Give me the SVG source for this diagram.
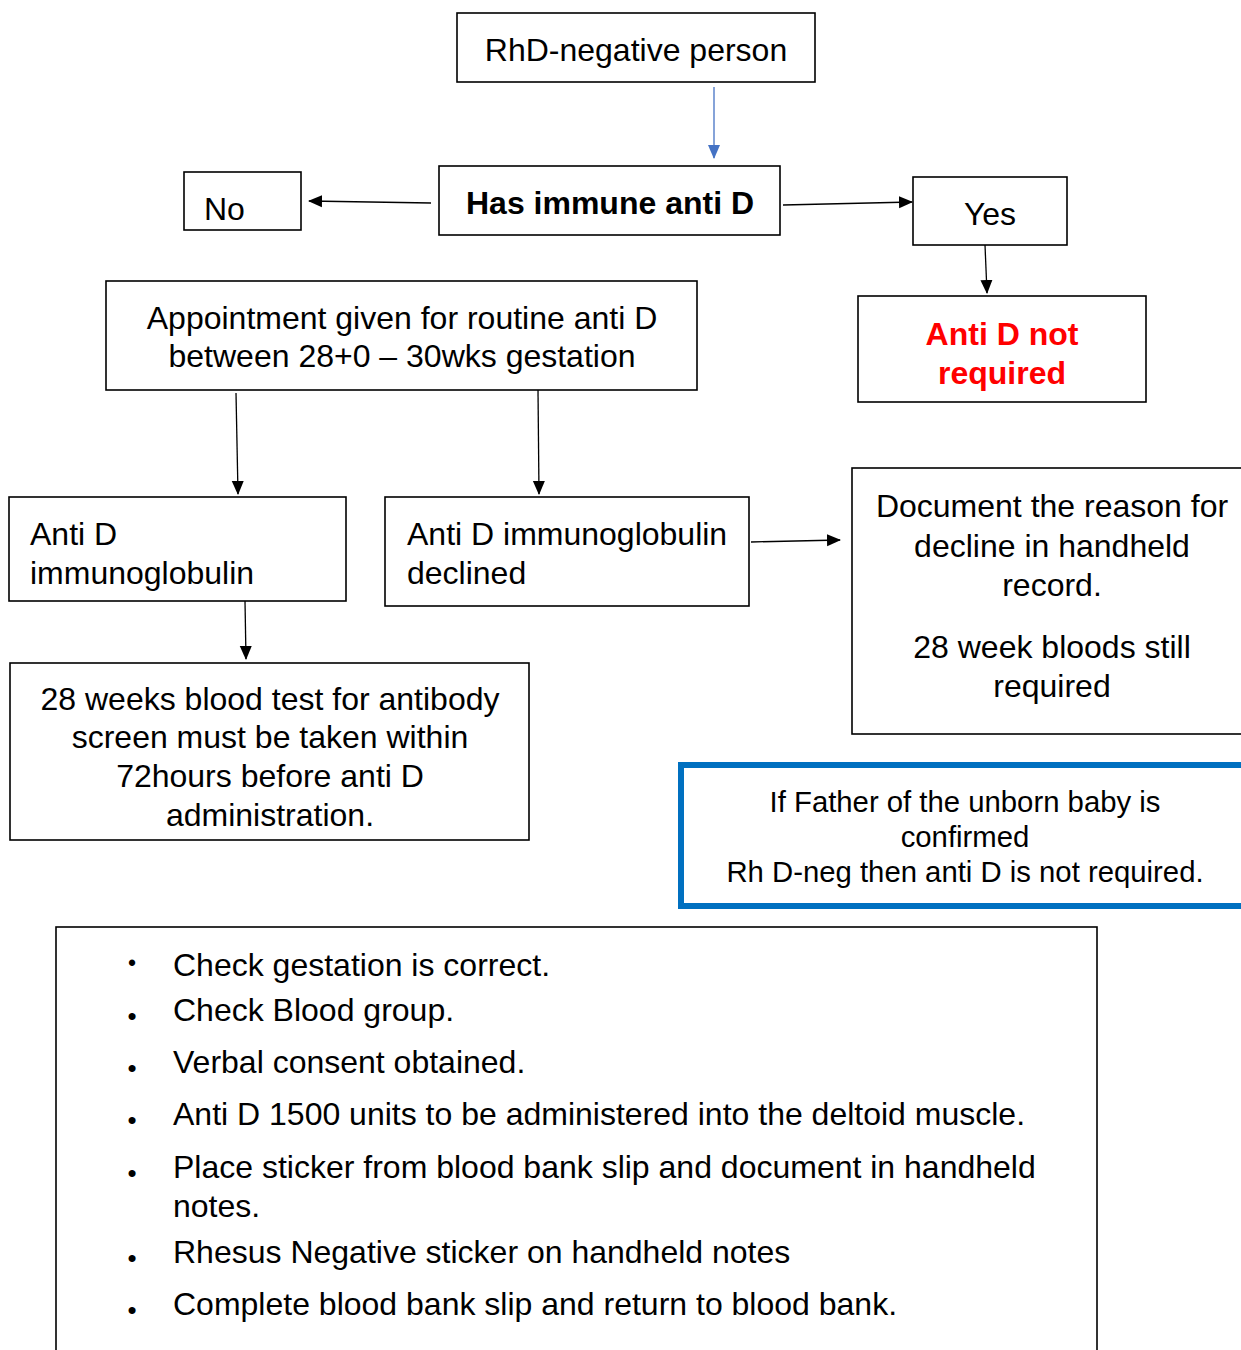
<svg xmlns="http://www.w3.org/2000/svg" width="1241" height="1350" viewBox="0 0 1241 1350">
<style>
.box{fill:#fff;stroke:#000;stroke-width:1.6}
.t{font-family:"Liberation Sans",Arial,sans-serif;font-size:32px;fill:#000}
.c{text-anchor:middle}
.b{font-weight:bold}
.red{fill:#ff0000}
.con{stroke:#000;stroke-width:1.3;fill:none;marker-end:url(#ah)}
.blue{stroke:#4472C4;stroke-width:1.3;fill:none;marker-end:url(#ahb)}
.bul{font-family:"Liberation Sans",Arial,sans-serif;font-size:26px;text-anchor:middle;fill:#000}
</style>
<defs>
<marker id="ah" markerWidth="14" markerHeight="14" refX="13" refY="7" orient="auto" markerUnits="userSpaceOnUse">
<path d="M0,1 L14,7 L0,13 Z" fill="#000"/>
</marker>
<marker id="ahb" markerWidth="14" markerHeight="14" refX="13" refY="7" orient="auto" markerUnits="userSpaceOnUse">
<path d="M0,1 L14,7 L0,13 Z" fill="#4472C4"/>
</marker>
</defs>
<rect width="1241" height="1350" fill="#fff"/>

<g id="connectors">
<line class="blue" x1="714" y1="87" x2="714" y2="158"/>
<line class="con" x1="431" y1="203" x2="309" y2="201"/>
<line class="con" x1="783" y1="205" x2="912" y2="202"/>
<line class="con" x1="985" y1="245" x2="987" y2="293"/>
<line class="con" x1="236" y1="393" x2="238" y2="494"/>
<line class="con" x1="538" y1="390" x2="539" y2="494"/>
<line class="con" x1="751" y1="542" x2="840" y2="540"/>
<line class="con" x1="245" y1="601" x2="246" y2="659"/>
</g>

<g id="rhd-negative">
<rect class="box" x="457" y="13" width="358" height="69"/>
<text class="t c" x="636" y="61">RhD-negative person</text>
</g>

<g id="has-immune">
<rect class="box" x="439" y="166" width="341" height="69"/>
<text class="t c b" x="610" y="214">Has immune anti D</text>
</g>

<g id="no">
<rect class="box" x="184" y="172" width="117" height="58"/>
<text class="t" x="204" y="220">No</text>
</g>

<g id="yes">
<rect class="box" x="913" y="177" width="154" height="68"/>
<text class="t c" x="990" y="225">Yes</text>
</g>

<g id="not-required">
<rect class="box" x="858" y="296" width="288" height="106"/>
<text class="t c b red" x="1002" y="345">Anti D not</text>
<text class="t c b red" x="1002" y="384">required</text>
</g>

<g id="appointment">
<rect class="box" x="106" y="281" width="591" height="109"/>
<text class="t c" x="402" y="329">Appointment given for routine anti D</text>
<text class="t c" x="402" y="367">between 28+0 – 30wks gestation</text>
</g>

<g id="given">
<rect class="box" x="9" y="497" width="337" height="104"/>
<text class="t" x="30" y="545">Anti D</text>
<text class="t" x="30" y="584">immunoglobulin</text>
</g>

<g id="declined">
<rect class="box" x="385" y="497" width="364" height="109"/>
<text class="t" x="407" y="545">Anti D immunoglobulin</text>
<text class="t" x="407" y="584">declined</text>
</g>

<g id="document">
<rect class="box" x="852" y="468" width="400" height="266"/>
<text class="t c" x="1052" y="517">Document the reason for</text>
<text class="t c" x="1052" y="557">decline in handheld</text>
<text class="t c" x="1052" y="596">record.</text>
<text class="t c" x="1052" y="658">28 week bloods still</text>
<text class="t c" x="1052" y="697">required</text>
</g>

<g id="blood-test">
<rect class="box" x="10" y="663" width="519" height="177"/>
<text class="t c" x="270" y="710">28 weeks blood test for antibody</text>
<text class="t c" x="270" y="748">screen must be taken within</text>
<text class="t c" x="270" y="787">72hours before anti D</text>
<text class="t c" x="270" y="826">administration.</text>
</g>

<g id="father">
<rect x="681" y="765" width="570" height="141" fill="#fff" stroke="#0070C0" stroke-width="6"/>
<text class="t c" style="font-size:29.3px" x="965" y="812">If Father of the unborn baby is</text>
<text class="t c" style="font-size:29.3px" x="965" y="847">confirmed</text>
<text class="t c" style="font-size:29.3px" x="965" y="882">Rh D-neg then anti D is not required.</text>
</g>

<g id="checklist">
<rect class="box" x="56" y="927" width="1041" height="440"/>
<text class="bul" style="font-size:23px" x="132" y="971">•</text>
<text class="bul" x="132" y="1025">•</text>
<text class="bul" x="132" y="1077">•</text>
<text class="bul" x="132" y="1129">•</text>
<text class="bul" x="132" y="1182">•</text>
<text class="bul" x="132" y="1267">•</text>
<text class="bul" x="132" y="1319">•</text>
<text class="t" x="173" y="976">Check gestation is correct.</text>
<text class="t" x="173" y="1021">Check Blood group.</text>
<text class="t" x="173" y="1073">Verbal consent obtained.</text>
<text class="t" x="173" y="1125">Anti D 1500 units to be administered into the deltoid muscle.</text>
<text class="t" x="173" y="1178">Place sticker from blood bank slip and document in handheld</text>
<text class="t" x="173" y="1217">notes.</text>
<text class="t" x="173" y="1263">Rhesus Negative sticker on handheld notes</text>
<text class="t" x="173" y="1315">Complete blood bank slip and return to blood bank.</text>
</g>
</svg>
